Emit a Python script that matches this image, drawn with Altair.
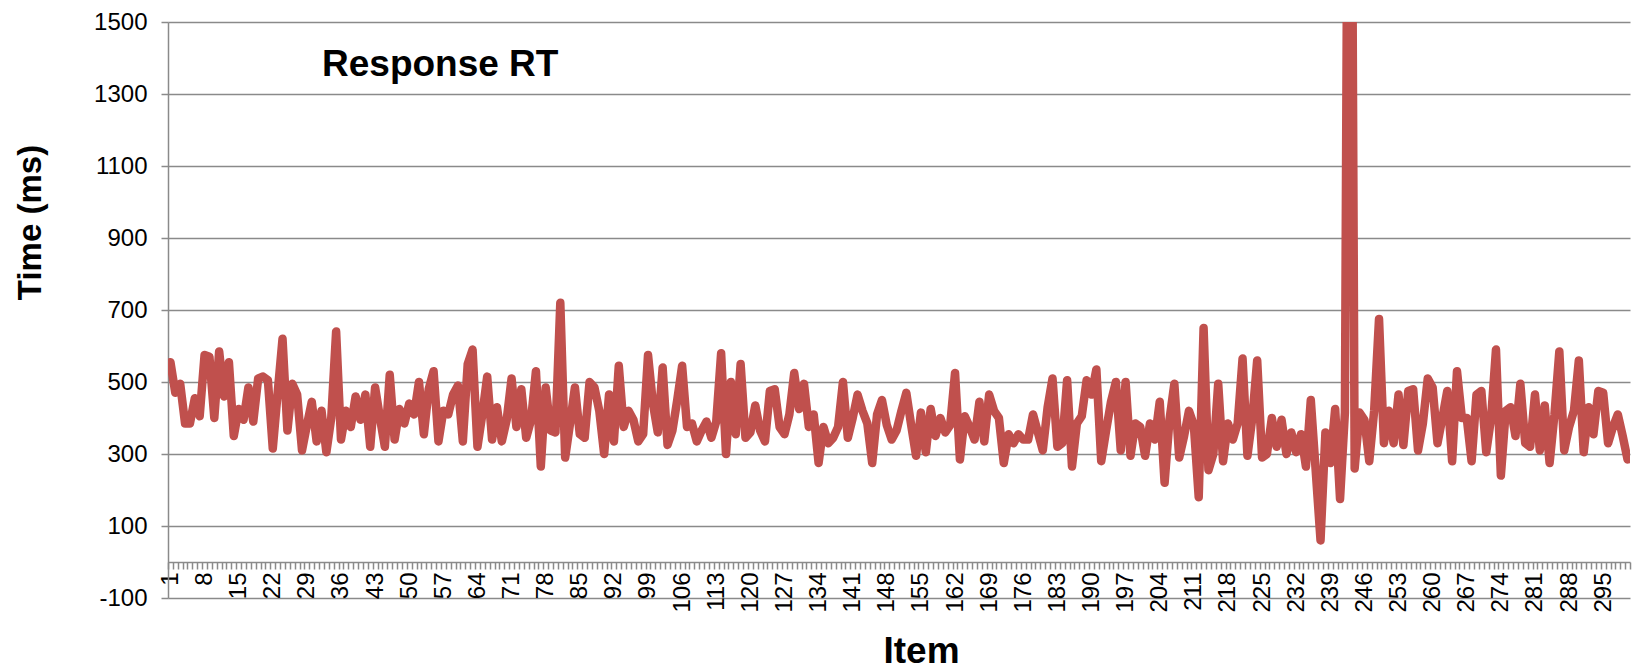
import altair as alt
import pandas as pd

# Response time per item (ms); item 243 runs far above the axis range
response_ms = [
    555, 470, 495, 385, 385, 455, 405, 575, 570, 400,
    585, 460, 555, 350, 425, 395, 485, 390, 510, 515,
    505, 315, 470, 620, 365, 495, 465, 310, 380, 445,
    335, 420, 305, 400, 640, 340, 420, 375, 460, 395,
    465, 320, 485, 400, 320, 520, 340, 425, 385, 440,
    410, 500, 355, 480, 530, 335, 420, 410, 465, 490,
    335, 550, 590, 320, 410, 515, 340, 430, 335, 395,
    510, 375, 480, 345, 395, 530, 265, 485, 365, 360,
    720, 290, 385, 485, 355, 345, 500, 485, 420, 300,
    465, 335, 545, 375, 420, 395, 335, 355, 575, 440,
    360, 540, 325, 365, 450, 545, 375, 385, 335, 365,
    390, 345, 390, 580, 300, 500, 355, 550, 345, 360,
    435, 365, 335, 475, 480, 375, 355, 410, 525, 425,
    495, 375, 410, 275, 375, 330, 345, 375, 500, 345,
    400, 465, 420, 385, 275, 410, 450, 380, 340, 365,
    420, 470, 380, 295, 415, 305, 425, 350, 400, 360,
    380, 525, 285, 405, 375, 340, 445, 335, 465, 420,
    400, 275, 355, 330, 355, 340, 340, 410, 360, 310,
    430, 510, 320, 330, 505, 265, 385, 405, 505, 465,
    535, 280, 365, 445, 500, 310, 500, 295, 385, 375,
    295, 385, 340, 445, 220, 395, 495, 290, 350, 420,
    380, 180, 650, 255, 300, 495, 280, 385, 340, 385,
    565, 295, 400, 560, 290, 300, 400, 320, 395, 300,
    360, 305, 355, 265, 450, 255, 60, 360, 275, 425,
    175, 415, 3300, 260, 415, 395, 280, 420, 675, 330,
    420, 330, 465, 325, 475, 480, 310, 385, 510, 485,
    330, 400, 475, 280, 530, 400, 400, 280, 465, 475,
    305, 400, 590, 240, 420, 430, 350, 495, 330, 320,
    465, 310, 435, 275, 410, 585, 310, 375, 420, 560,
    305, 430, 355, 475, 470, 330, 375, 410, 350, 285,
]
items = list(range(1, len(response_ms) + 1))

y_ticks = [-100, 100, 300, 500, 700, 900, 1100, 1300, 1500]
# category boundaries carry the tick marks; every 7th item is labelled
x_ticks = [i - 0.5 for i in range(1, len(items) + 2)]

df = pd.DataFrame({"Item": items, "Time": response_ms})

W, H = 1462, 576
GRID = "#8a8a8a"

line = alt.Chart(df).mark_line(
    color="#C0504D", strokeWidth=8.5, clip=True, strokeJoin="round", strokeCap="round"
).encode(
    x=alt.X(
        "Item:Q",
        scale=alt.Scale(domain=[0.5, len(items) + 0.5], nice=False, zero=False),
        axis=alt.Axis(
            values=x_ticks,
            labelExpr="((datum.value + 0.5 - 1) % 7 == 0 && datum.value < 300) ? toString(datum.value + 0.5) : ''",
            labelAngle=270,
            labelOffset=2.4,
            labelOverlap=False,
            labelFlush=False,
            labelBound=False,
            labelFontSize=24,
            labelColor="black",
            labelPadding=3,
            tickSize=7,
            tickColor=GRID,
            tickWidth=1.5,
            domainColor=GRID,
            domainWidth=1.5,
            grid=False,
            offset=-36,
            title="Item",
            titleFontSize=37,
            titleFontWeight="bold",
            titleColor="black",
            titleX=753,
            titleY=100,
            titleAlign="center",
            titleBaseline="alphabetic",
        ),
    ),
    y=alt.Y(
        "Time:Q",
        scale=alt.Scale(domain=[-100, 1500], nice=False, zero=False),
        axis=alt.Axis(
            values=y_ticks,
            labelExpr="toString(datum.value)",
            grid=True,
            gridColor=GRID,
            gridWidth=1.5,
            domainColor=GRID,
            domainWidth=1.5,
            tickColor=GRID,
            tickWidth=1.5,
            tickSize=7,
            labelFontSize=24,
            labelColor="black",
            labelPadding=14,
            title="Time (ms)",
            titleFontSize=33,
            titleFontWeight="bold",
            titleColor="black",
            titleAngle=270,
            titleX=-138,
            titleY=200,
            titleAlign="center",
            titleBaseline="middle",
        ),
    ),
)

label = alt.Chart(pd.DataFrame({"t": ["Response RT"]})).mark_text(
    align="left", baseline="alphabetic", fontSize=37, fontWeight="bold", color="black"
).encode(text="t:N", x=alt.value(154), y=alt.value(54))

chart = alt.layer(line, label).properties(
    width=W,
    height=H,
    autosize=alt.AutoSizeParams(type="none"),
    padding={"left": 168, "top": 22, "right": 11, "bottom": 72},
).configure(font="Liberation Sans").configure_view(stroke="transparent")

chart.save("out.html", embed_options={"renderer": "svg", "actions": False})
